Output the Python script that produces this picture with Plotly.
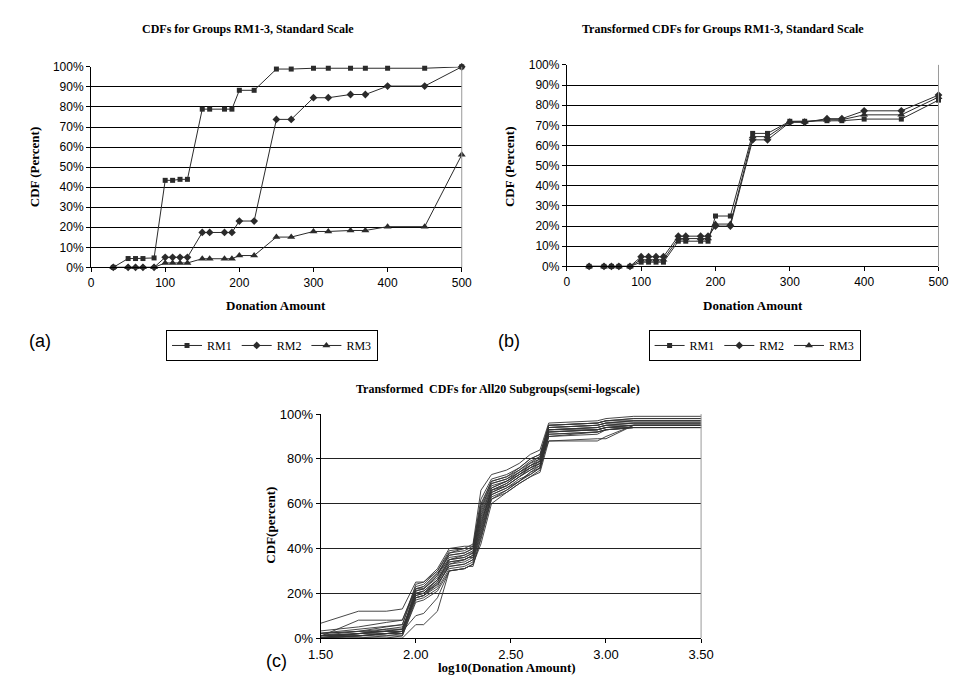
import numpy as np
import plotly.graph_objects as go

# ---------------- data ----------------
amounts = [30, 50, 60, 70, 85, 100, 110, 120, 130, 150, 160, 180, 190, 200,
           220, 250, 270, 300, 320, 350, 370, 400, 450, 500]

rm1_a = [0, 4.4, 4.4, 4.4, 4.7, 43.4, 43.4, 43.9, 43.9, 78.9, 78.9, 78.9, 78.9,
         88.3, 88.3, 98.9, 98.9, 99.3, 99.3, 99.3, 99.3, 99.3, 99.3, 100]
rm2_a = [0, 0, 0, 0, 0, 5.0, 5.0, 5.0, 5.0, 17.4, 17.4, 17.4, 17.4, 23.1, 23.1,
         73.8, 73.8, 84.6, 84.6, 86.2, 86.2, 90.4, 90.4, 100]
rm3_a = [0, 0, 0, 0, 0, 2.2, 2.2, 2.2, 2.2, 4.3, 4.3, 4.3, 4.3, 5.9, 5.9,
         15.1, 15.1, 17.9, 17.9, 18.4, 18.4, 20.3, 20.3, 56.1]

rm1_b = [0, 0, 0, 0, 0, 2.1, 2.1, 2.1, 2.1, 12.5, 12.5, 12.5, 12.5, 25, 25,
         66, 66, 72, 72, 72.3, 72.3, 73.1, 73.1, 82.5]
rm2_b = [0, 0, 0, 0, 0, 4.8, 4.8, 4.8, 4.8, 15, 15, 15, 15, 20, 20,
         62.8, 62.8, 71.5, 71.5, 73.3, 73.3, 77.2, 77.2, 85]
rm3_b = [0, 0, 0, 0, 0, 3.3, 3.3, 3.3, 3.3, 13.8, 13.8, 13.8, 13.8, 21, 21,
         64.4, 64.4, 71.8, 71.8, 72.8, 72.8, 75.2, 75.2, 84]

series_names = ["RM1", "RM2", "RM3"]

amounts_c = [30, 50, 70, 85, 100, 110, 130, 150, 180, 190, 200, 220, 250, 300,
             350, 400, 450, 500, 900, 1000, 1400, 3200]
sub01 = [6, 12, 12, 13, 25, 25, 30, 38, 40, 41, 41, 60, 70, 72, 76, 80, 82, 95, 96, 97, 98, 98]
sub02 = [0, 8, 8, 8, 22, 23, 29, 35, 37, 38, 38, 56, 68, 70, 74, 77, 79, 94, 95, 96, 96, 96]
sub03 = [2, 3, 4, 5, 18, 19, 25, 33, 35, 36, 37, 50, 66, 69, 73, 76, 78, 92, 93, 94, 95, 95]
sub04 = [1, 2, 3, 3, 10, 11, 18, 30, 31, 32, 33, 44, 62, 66, 70, 74, 76, 90, 92, 93, 94, 94]
sub05 = [0, 0, 0, 0, 6, 6, 12, 30, 31, 32, 33, 42, 60, 65, 69, 72, 74, 88, 88, 90, 95, 95]
sub06 = [1, 3, 5, 6, 24, 25, 31, 40, 41, 41, 42, 66, 73, 75, 78, 82, 84, 96, 97, 98, 99, 99]
sub07 = [0, 1, 2, 2, 20, 21, 26, 35, 36, 37, 38, 52, 65, 68, 72, 75, 77, 93, 94, 95, 95, 95]
sub08 = [2, 4, 5, 6, 22, 22, 28, 37, 38, 39, 40, 58, 69, 71, 74, 78, 80, 94, 95, 96, 97, 97]
sub09 = [0, 2, 3, 4, 19, 20, 24, 32, 33, 34, 35, 48, 64, 67, 71, 73, 76, 91, 92, 93, 94, 94]
sub10 = [1, 1, 2, 3, 21, 22, 27, 36, 37, 38, 39, 54, 67, 70, 73, 76, 79, 93, 94, 95, 96, 96]
sub11 = [0, 0, 1, 1, 17, 18, 22, 31, 32, 33, 34, 46, 63, 66, 70, 74, 77, 92, 93, 94, 94, 94]
sub12 = [3, 5, 7, 8, 23, 24, 30, 39, 40, 40, 41, 62, 71, 73, 76, 80, 82, 95, 96, 97, 98, 98]
sub13 = [0, 1, 1, 2, 18, 19, 23, 33, 34, 35, 36, 49, 65, 68, 72, 75, 78, 92, 93, 94, 95, 95]
sub14 = [1, 2, 4, 4, 20, 20, 26, 34, 35, 36, 37, 53, 66, 69, 73, 77, 79, 93, 93, 94, 95, 95]
sub15 = [0, 0, 0, 1, 16, 17, 21, 30, 31, 32, 32, 45, 62, 65, 69, 72, 75, 90, 91, 93, 94, 94]
sub16 = [2, 3, 3, 4, 21, 22, 28, 38, 39, 40, 40, 57, 69, 71, 75, 78, 81, 94, 95, 96, 97, 97]
sub17 = [0, 2, 2, 3, 19, 20, 25, 34, 35, 36, 36, 51, 66, 68, 72, 76, 78, 88, 89, 89, 95, 95]
sub18 = [1, 2, 3, 3, 22, 23, 29, 37, 38, 39, 40, 59, 70, 72, 75, 79, 81, 95, 96, 97, 97, 97]
sub19 = [0, 1, 2, 2, 18, 19, 24, 32, 33, 34, 35, 47, 64, 67, 70, 73, 76, 91, 92, 93, 94, 94]
sub20 = [1, 1, 2, 3, 20, 21, 26, 35, 36, 37, 38, 55, 67, 70, 74, 77, 80, 93, 94, 95, 96, 96]
subgroups = [sub01, sub02, sub03, sub04, sub05, sub06, sub07, sub08, sub09, sub10,
             sub11, sub12, sub13, sub14, sub15, sub16, sub17, sub18, sub19, sub20]

y_ticks_ab = [0, 10, 20, 30, 40, 50, 60, 70, 80, 90, 100]
y_labels_ab = ["0%", "10%", "20%", "30%", "40%", "50%", "60%", "70%", "80%", "90%", "100%"]
x_ticks_ab = [0, 100, 200, 300, 400, 500]
x_labels_ab = ["0", "100", "200", "300", "400", "500"]
y_ticks_c = [0, 20, 40, 60, 80, 100]
y_labels_c = ["0%", "20%", "40%", "60%", "80%", "100%"]
x_ticks_c = [1.5, 2.0, 2.5, 3.0, 3.5]
x_labels_c = ["1.50", "2.00", "2.50", "3.00", "3.50"]

# ---------------- figure ----------------
W, H = 961, 687
def px(x):
    return x / W
def py(y):
    return 1 - y / H

SERIF = "Liberation Serif, Times New Roman, serif"
SANS = "Liberation Sans, Arial, Helvetica, sans-serif"
INK = "#2b2b2b"
symbols = ["square", "diamond", "triangle-up"]
msizes = [5, 6, 7]

fig = go.Figure()

for i, (ys, name) in enumerate(zip([rm1_a, rm2_a, rm3_a], series_names)):
    fig.add_trace(go.Scatter(
        x=amounts, y=ys, name=name, mode="lines+markers",
        line=dict(color=INK, width=1),
        marker=dict(symbol=symbols[i], size=msizes[i], color=INK),
        xaxis="x", yaxis="y", legend="legend", cliponaxis=False))

for i, (ys, name) in enumerate(zip([rm1_b, rm2_b, rm3_b], series_names)):
    fig.add_trace(go.Scatter(
        x=amounts, y=ys, name=name, mode="lines+markers",
        line=dict(color=INK, width=1),
        marker=dict(symbol=symbols[i], size=msizes[i], color=INK),
        xaxis="x2", yaxis="y2", legend="legend2", cliponaxis=False))

logx = np.log10(amounts_c)
for ys in subgroups:
    fig.add_trace(go.Scatter(
        x=logx, y=ys, mode="lines", showlegend=False,
        line=dict(color="#333333", width=0.9),
        xaxis="x3", yaxis="y3"))

def axis(size=12, **kw):
    d = dict(showline=True, linecolor="black", linewidth=1,
             ticks="outside", ticklen=4, tickcolor="black",
             zeroline=False, tickmode="array",
             tickfont=dict(family=SANS, size=size, color="black"))
    d.update(kw)
    return d

fig.update_layout(
    width=W, height=H, margin=dict(l=0, r=0, t=0, b=0),
    paper_bgcolor="white", plot_bgcolor="white",
    xaxis=axis(domain=[px(72), px(453)], anchor="y", range=[0, 500],
               tickvals=x_ticks_ab, ticktext=x_labels_ab, showgrid=False),
    yaxis=axis(domain=[py(258), py(53)], anchor="x", range=[0, 100],
               tickvals=y_ticks_ab, ticktext=y_labels_ab, showgrid=True,
               gridcolor="black", gridwidth=1),
    xaxis2=axis(domain=[px(561), px(943)], anchor="y2", range=[0, 500],
                tickvals=x_ticks_ab, ticktext=x_labels_ab, showgrid=False),
    yaxis2=axis(domain=[py(257), py(51)], anchor="x2", range=[0, 100],
                tickvals=y_ticks_ab, ticktext=y_labels_ab, showgrid=True,
                gridcolor="black", gridwidth=1),
    xaxis3=axis(13, domain=[px(308), px(699)], anchor="y3", range=[1.5, 3.5],
                tickvals=x_ticks_c, ticktext=x_labels_c, showgrid=False),
    yaxis3=axis(13, domain=[py(637), py(408)], anchor="x3", range=[0, 100],
                tickvals=y_ticks_c, ticktext=y_labels_c, showgrid=True,
                gridcolor="#222222", gridwidth=1),
    legend=dict(x=px(258), y=py(322), xanchor="center", yanchor="top",
                orientation="h", bordercolor="black", borderwidth=1,
                font=dict(family=SERIF, size=12, color="black"),
                itemwidth=30, tracegroupgap=0, bgcolor="white"),
    legend2=dict(x=px(754), y=py(322), xanchor="center", yanchor="top",
                 orientation="h", bordercolor="black", borderwidth=1,
                 font=dict(family=SERIF, size=12, color="black"),
                 itemwidth=30, tracegroupgap=0, bgcolor="white"),
    showlegend=True,
)

# right-hand grey plot edges
for xr, yr in [("x", "y"), ("x2", "y2"), ("x3", "y3")]:
    fig.add_shape(type="line", xref=f"{xr} domain", yref=f"{yr} domain",
                  x0=1, x1=1, y0=0, y1=1, line=dict(color="#9a9a9a", width=1))

def ann(text, x, y, size, family=SERIF, angle=0, bold=True):
    fig.add_annotation(text=f"<b>{text}</b>" if bold else text,
                       x=px(x), y=py(y), xref="paper", yref="paper",
                       showarrow=False, textangle=angle,
                       font=dict(family=family, size=size, color="black"),
                       xanchor="center", yanchor="middle")

ann("CDFs for Groups RM1-3, Standard Scale", 233, 14, 12)
ann("Transformed CDFs for Groups RM1-3, Standard Scale", 722, 14, 12)
ann("Transformed  CDFs for All20 Subgroups(semi-logscale)", 490, 382, 12)
ann("Donation Amount", 262, 297, 13)
ann("Donation Amount", 752, 297, 13)
ann("log10(Donation Amount)", 500, 667, 13)
ann("CDF (Percent)", 14, 155, 13, angle=-90)
ann("CDF (Percent)", 502, 155, 13, angle=-90)
ann("CDF(percent)", 257, 522, 13, angle=-90)
ann("(a)", 20, 333, 18, family=SANS, bold=False)
ann("(b)", 502, 333, 18, family=SANS, bold=False)
ann("(c)", 263, 660, 18, family=SANS, bold=False)

fig.write_html("out.html")
